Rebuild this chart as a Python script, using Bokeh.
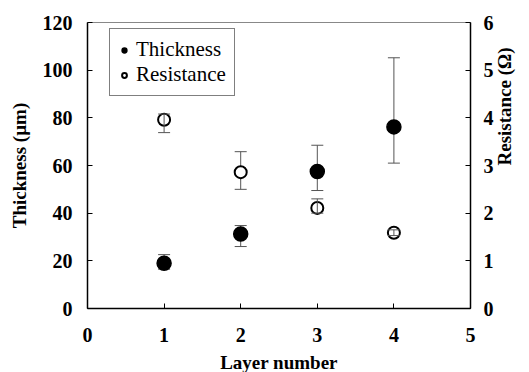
import math
from bokeh.plotting import figure
from bokeh.layouts import column
from bokeh.models import (Range1d, LinearAxis, FixedTicker, Whisker, TeeHead,
                          ColumnDataSource, Legend, LegendItem, Label)
from bokeh.embed import file_html
from bokeh.resources import INLINE

# Layer data
layers = [1, 2, 3, 4]
thickness = [19.0, 31.3, 57.5, 76.2]          # µm
thickness_upper = [22.6, 34.8, 68.5, 105.2]
thickness_lower = [16.5, 26.0, 49.5, 61.0]
resistance = [3.96, 2.86, 2.11, 1.59]          # Ω
resistance_upper = [4.08, 3.29, 2.30, 1.65]
resistance_lower = [3.69, 2.50, 2.00, 1.53]

x_ticks = [0, 1, 2, 3, 4, 5]
left_ticks = [0, 20, 40, 60, 80, 100, 120]
right_ticks = [0, 1, 2, 3, 4, 5, 6]

SERIF = "Liberation Serif"

p = figure(width=529, height=352, output_backend="svg", toolbar_location=None,
           x_range=Range1d(0, 5), y_range=Range1d(0, 120),
           min_border_left=87, min_border_right=59, min_border_top=22,
           min_border_bottom=44, y_axis_location=None, x_axis_location=None)
p.extra_y_ranges = {"res": Range1d(0, 6)}
p.xgrid.visible = False
p.ygrid.visible = False
p.outline_line_color = "#888888"
p.outline_line_width = 1
p.background_fill_color = "white"
p.border_fill_color = "white"


def style_axis(ax, ticks):
    ax.ticker = FixedTicker(ticks=ticks)
    ax.axis_line_color = "black"
    ax.axis_line_width = 1.5
    ax.major_tick_in = 5
    ax.major_tick_out = 0
    ax.major_tick_line_color = "black"
    ax.major_tick_line_width = 1
    ax.minor_tick_line_color = None
    ax.major_label_text_font = SERIF
    ax.major_label_text_font_style = "bold"
    ax.major_label_text_font_size = "20px"
    ax.major_label_text_color = "black"
    ax.axis_label_text_font = SERIF
    ax.axis_label_text_font_style = "bold"
    ax.axis_label_text_font_size = "19px"
    ax.axis_label_text_color = "black"


xaxis = LinearAxis()
style_axis(xaxis, x_ticks)
xaxis.major_label_standoff = 19
p.add_layout(xaxis, "below")

yaxis = LinearAxis(axis_label="Thickness (µm)")
style_axis(yaxis, left_ticks)
yaxis.major_label_standoff = 15
yaxis.axis_label_standoff = 10
p.add_layout(yaxis, "left")

raxis = LinearAxis(axis_label="Resistance (Ω)", y_range_name="res")
style_axis(raxis, right_ticks)
raxis.major_label_standoff = 13
raxis.axis_label_standoff = 8
raxis.axis_label_orientation = math.pi / 2
p.add_layout(raxis, "right")


def subset(idx, ys, ups, los):
    return ColumnDataSource(dict(x=[layers[i] for i in idx], y=[ys[i] for i in idx],
                                 up=[ups[i] for i in idx], lo=[los[i] for i in idx]))


src_t = subset(range(4), thickness, thickness_upper, thickness_lower)
src_r = subset(range(4), resistance, resistance_upper, resistance_lower)
# error bars that show through the open circles vs. ones hidden behind them
src_r_over = subset([0, 2, 3], resistance, resistance_upper, resistance_lower)
src_r_under = subset([1], resistance, resistance_upper, resistance_lower)

err_color = "#555555"


def whisker(src, level, **kw):
    return Whisker(source=src, base="x", upper="up", lower="lo", level=level,
                   line_color=err_color, line_width=1,
                   upper_head=TeeHead(size=12, line_color=err_color, line_width=1),
                   lower_head=TeeHead(size=12, line_color=err_color, line_width=1), **kw)


p.add_layout(whisker(src_t, "underlay"))
p.add_layout(whisker(src_r_under, "underlay", y_range_name="res"))

r_t = p.scatter("x", "y", source=src_t, size=14, marker="circle",
                fill_color="black", line_color="black", line_width=1.5)
r_r = p.scatter("x", "y", source=src_r, size=12, marker="circle", y_range_name="res",
                fill_color="white", line_color="black", line_width=2)

p.add_layout(whisker(src_r_over, "overlay", y_range_name="res"))

legend = Legend(items=[LegendItem(label="Thickness", renderers=[r_t]),
                       LegendItem(label="Resistance", renderers=[r_r])],
                location=(22, 212))
legend.label_text_font = SERIF
legend.label_text_font_size = "21px"
legend.label_text_color = "black"
legend.border_line_color = "black"
legend.border_line_width = 1.5
legend.background_fill_color = "white"
legend.background_fill_alpha = 1
legend.glyph_width = 12
legend.glyph_height = 12
legend.label_standoff = 6
legend.spacing = 0
legend.padding = 8
legend.margin = 0
legend.label_height = 21
p.add_layout(legend, "center")

# strip beneath the chart carrying the x-axis title; its frame lines up with the chart's
cap = figure(width=529, height=20, output_backend="svg", toolbar_location=None,
             x_range=Range1d(0, 5), y_range=Range1d(0, 20),
             min_border=0, x_axis_location=None, y_axis_location=None)
cap.outline_line_color = None
cap.xgrid.visible = False
cap.ygrid.visible = False
cap.add_layout(Label(x=2.5, y=10, x_units="data", y_units="screen",
                     text="Layer number", text_font=SERIF, text_font_style="bold",
                     text_font_size="19px", text_color="black",
                     text_align="center", text_baseline="middle"))

layout = column(p, cap, spacing=0)
open("out.html", "w").write(file_html(layout, INLINE))
